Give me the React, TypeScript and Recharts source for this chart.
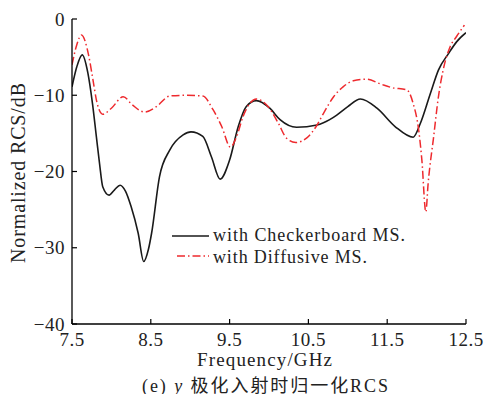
import React from "react";
import { LineChart, Line, XAxis, YAxis } from "recharts";

const freqChecker = [7.5, 7.56, 7.63, 7.7, 7.76, 7.81, 7.85, 7.89, 7.97, 8.04, 8.11, 8.18, 8.25, 8.34, 8.41, 8.47, 8.51, 8.61, 8.74, 8.91, 9.01, 9.16, 9.27, 9.38, 9.5, 9.61, 9.71, 9.84, 10.01, 10.14, 10.35, 10.61, 10.77, 10.86, 11.0, 11.16, 11.37, 11.6, 11.83, 11.92, 12.05, 12.15, 12.28, 12.38, 12.5];
const rcsChecker = [-8.9, -6.3, -4.7, -7.0, -11.1, -15.5, -19.0, -22.0, -23.1, -22.4, -21.8, -22.6, -24.6, -28.1, -31.8, -30.2, -28.1, -20.7, -17.2, -15.2, -14.8, -15.4, -18.1, -21.0, -18.5, -14.1, -11.5, -10.7, -11.7, -13.2, -14.2, -13.9, -13.2, -12.6, -11.5, -10.5, -11.7, -14.1, -15.5, -13.7, -9.7, -6.7, -4.5, -3.0, -1.8];

const freqDiffusive = [7.5, 7.56, 7.62, 7.71, 7.76, 7.82, 7.89, 8.0, 8.15, 8.27, 8.42, 8.57, 8.74, 8.95, 9.16, 9.29, 9.4, 9.51, 9.59, 9.67, 9.84, 9.99, 10.12, 10.22, 10.34, 10.48, 10.61, 10.69, 10.82, 10.94, 11.07, 11.24, 11.41, 11.56, 11.75, 11.83, 11.9, 11.94, 11.99, 12.02, 12.09, 12.15, 12.21, 12.3, 12.38, 12.48];
const rcsDiffusive = [-6.0, -3.4, -2.1, -4.7, -7.6, -11.1, -12.5, -11.7, -10.2, -11.3, -12.2, -11.5, -10.1, -10.0, -10.1, -11.9, -14.1, -16.8, -15.4, -12.8, -10.5, -11.5, -13.7, -15.6, -16.2, -15.6, -13.9, -12.4, -10.2, -8.9, -8.1, -7.9, -8.5, -9.0, -9.3, -11.1, -14.6, -18.5, -25.3, -21.5, -15.4, -10.2, -6.7, -3.6, -2.3, -0.8];

const xTicks = [7.5, 8.5, 9.5, 10.5, 11.5, 12.5];
const xTickLabels = ["7.5", "8.5", "9.5", "10.5", "11.5", "12.5"];
const yTicks = [-40, -30, -20, -10, 0];
const yTickLabels = ["\u221240", "\u221230", "\u221220", "\u221210", "0"];

const seriesNames = ["with Checkerboard MS.", "with Diffusive MS."];

const checkerData = freqChecker.map((f, i) => ({ f, v: rcsChecker[i] }));
const diffusiveData = freqDiffusive.map((f, i) => ({ f, v: rcsDiffusive[i] }));

const FONT = "\"Liberation Serif\", \"DejaVu Serif\", \"Noto Sans CJK SC\", serif";
const txt = { fontFamily: FONT };

const XTick = (props: any) => {
  const { x, y, payload } = props;
  const idx = xTicks.indexOf(payload.value);
  return (
    <g>
      <line x1={x} x2={x} y1={y} y2={y - 5} stroke="#000" strokeWidth={1.2} />
      <text x={x} y={y + 22} textAnchor="middle" fontSize={19} style={txt} fill="#222" letterSpacing={0.5}>
        {xTickLabels[idx]}
      </text>
    </g>
  );
};

const YTick = (props: any) => {
  const { x, y, payload } = props;
  const idx = yTicks.indexOf(payload.value);
  return (
    <g>
      <line x1={x} x2={x + 5} y1={y} y2={y} stroke="#000" strokeWidth={1.2} />
      <text x={x - 7} y={y} dy="0.35em" textAnchor="end" fontSize={19} style={txt} fill="#222" letterSpacing={0.5}>
        {yTickLabels[idx]}
      </text>
    </g>
  );
};

export default function App() {
  return (
    <div style={{ position: "relative", width: 486, height: 394, background: "#fff" }}>
      <style>{"body{margin:0}"}</style>
      <LineChart width={486} height={394} margin={{ top: 19, right: 20, bottom: 0, left: 0 }}>
        <XAxis
          dataKey="f"
          type="number"
          domain={[7.5, 12.5]}
          ticks={xTicks}
          allowDataOverflow
          height={70}
          tickSize={0}
          tickMargin={0}
          tickLine={false}
          tick={<XTick />}
          axisLine={{ stroke: "#000", strokeWidth: 1.3 }}
          interval={0}
        />
        <YAxis
          type="number"
          domain={[-40, 0]}
          ticks={yTicks}
          allowDataOverflow
          width={72}
          tickSize={0}
          tickMargin={0}
          tickLine={false}
          tick={<YTick />}
          axisLine={{ stroke: "#000", strokeWidth: 1.3 }}
          interval={0}
        />
        <Line
          data={checkerData}
          dataKey="v"
          type="monotone"
          stroke="#1a1a1a"
          strokeWidth={1.6}
          dot={false}
          isAnimationActive={false}
        />
        <Line
          data={diffusiveData}
          dataKey="v"
          type="monotone"
          stroke="#ee2a2e"
          strokeWidth={1.5}
          strokeDasharray="8 3 1.5 3"
          dot={false}
          isAnimationActive={false}
        />
      </LineChart>
      <svg width={486} height={394} style={{ position: "absolute", left: 0, top: 0, pointerEvents: "none" }}>
        <text
          x={25}
          y={173}
          transform="rotate(-90, 25, 173)"
          textAnchor="middle"
          fontSize={20}
          style={txt}
          fill="#222"
          textLength={180}
          lengthAdjust="spacing"
        >
          Normalized RCS/dB
        </text>
        <text x={197} y={366} fontSize={19} style={txt} fill="#222" textLength={135} lengthAdjust="spacing">
          Frequency/GHz
        </text>
        <text x={142} y={392} fontSize={18} style={txt} fill="#222" textLength={246} lengthAdjust="spacing">
          (e)<tspan fontStyle="italic"> y </tspan>极化入射时归一化RCS
        </text>
        <line x1={172} x2={209} y1={236} y2={236} stroke="#1a1a1a" strokeWidth={1.6} />
        <text x={213} y={241} fontSize={18} style={txt} fill="#222" textLength={192} lengthAdjust="spacing">
          {seriesNames[0]}
        </text>
        <line x1={177} x2={209} y1={256} y2={256} stroke="#ee2a2e" strokeWidth={1.5} strokeDasharray="8 3 1.5 3" />
        <text x={213} y={263} fontSize={18} style={txt} fill="#222" textLength={154} lengthAdjust="spacing">
          {seriesNames[1]}
        </text>
      </svg>
    </div>
  );
}
